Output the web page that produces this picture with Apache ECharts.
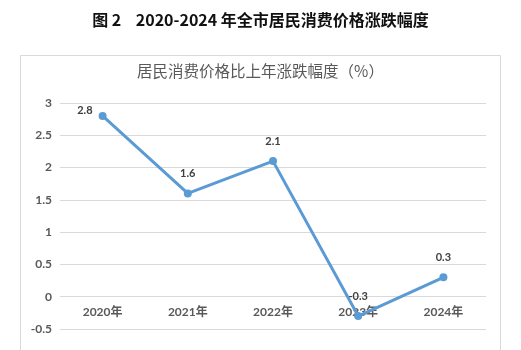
<!DOCTYPE html>
<html>
<head>
<meta charset="utf-8">
<style>
  html, body { margin: 0; padding: 0; background: #fff; }
  #chart { width: 521px; height: 350px; }
</style>
<script src="https://cdn.jsdelivr.net/npm/echarts@6/dist/echarts.min.js"></script>
</head>
<body>
<div id="chart"></div>
<script>
// Year-on-year change of the consumer price index, 2020-2024
const categories = ['2020年', '2021年', '2022年', '2023年', '2024年'];
const cpiChange = [2.8, 1.6, 2.1, -0.3, 0.3];
const yMin = -0.5;
const yMax = 3;
const yStep = 0.5;

const latin = 'Lato, "Noto Sans CJK SC", sans-serif';
const cjk = '"Noto Sans CJK SC", sans-serif';

const seriesData = cpiChange.map((v, i) => {
  const item = { value: v };
  if (i === 0) {
    item.label = { position: 'left', distance: 6, offset: [0, -5] };
  }
  return item;
});

const chart = echarts.init(document.getElementById('chart'), null, { renderer: 'canvas' });
chart.setOption({
  animation: false,
  backgroundColor: '#ffffff',
  graphic: [
    {
      type: 'text',
      left: 'center',
      top: 12,
      style: {
        text: '图 2    2020-2024 年全市居民消费价格涨跌幅度',
        font: 'bold 16px ' + cjk,
        fill: '#111111'
      }
    },
    {
      type: 'rect',
      shape: { x: 20.5, y: 55.5, width: 480, height: 320 },
      style: { fill: 'none', stroke: '#d9d9d9', lineWidth: 1 },
      silent: true
    },
    {
      type: 'text',
      left: 'center',
      top: 63,
      style: {
        text: '居民消费价格比上年涨跌幅度（%）',
        font: '15.5px ' + cjk,
        fill: '#595959'
      }
    }
  ],
  grid: { left: 60, right: 35, top: 103, bottom: 21 },
  xAxis: {
    type: 'category',
    data: categories,
    boundaryGap: true,
    position: 'bottom',
    offset: -32.4,
    axisLine: { show: false, onZero: false },
    axisTick: { show: false },
    axisLabel: {
      margin: 10,
      color: '#595959',
      fontFamily: latin,
      fontWeight: 'bold',
      fontSize: 12
    }
  },
  yAxis: {
    type: 'value',
    min: yMin,
    max: yMax,
    interval: yStep,
    axisLine: { show: false },
    axisTick: { show: false },
    splitLine: { lineStyle: { color: '#d9d9d9', width: 1 } },
    axisLabel: {
      margin: 8,
      color: '#595959',
      fontFamily: latin,
      fontWeight: 'bold',
      fontSize: 12
    }
  },
  series: [
    {
      type: 'line',
      data: seriesData,
      symbol: 'circle',
      symbolSize: 8,
      lineStyle: { color: '#5b9bd5', width: 3 },
      itemStyle: { color: '#5b9bd5' },
      label: {
        show: true,
        position: 'top',
        distance: 10,
        color: '#404040',
        fontFamily: latin,
        fontWeight: 'bold',
        fontSize: 11
      },
      z: 3
    }
  ]
});
</script>
</body>
</html>
